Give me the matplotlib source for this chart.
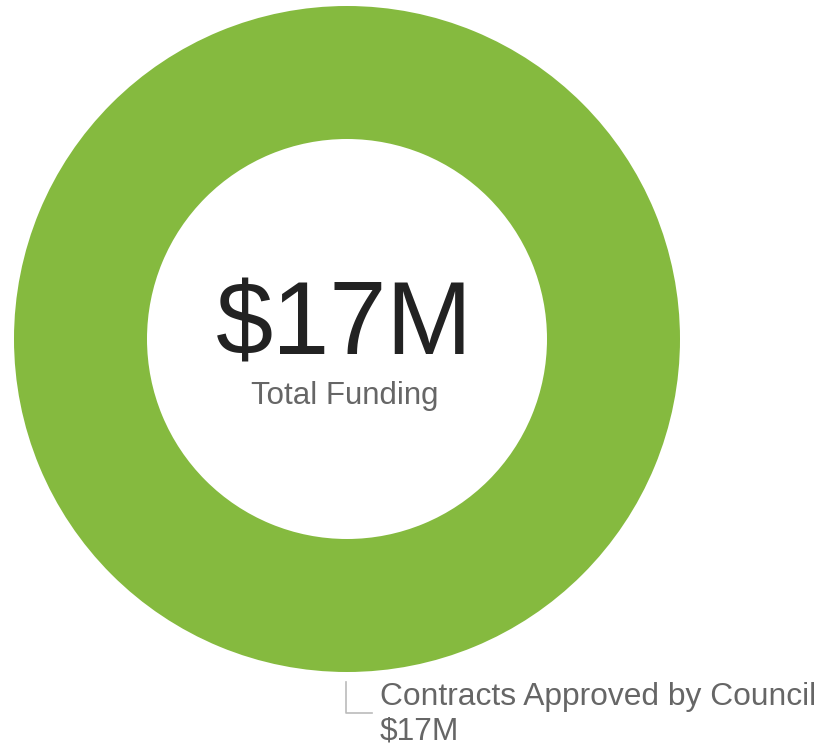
import matplotlib
matplotlib.use("Agg")
import matplotlib.pyplot as plt

categories = ["Contracts Approved by Council"]
values = [17]  # $M
colors = ["#85BA3F"]

total = sum(values)

plt.rcParams['font.family'] = ['Liberation Sans', 'DejaVu Sans']

fig = plt.figure(figsize=(8.21, 7.46), dpi=100)
ax = fig.add_axes([0, 0, 1, 1])

cx, cy, r_out, r_in = 347, 339, 333, 200
ax.pie(values, colors=colors, radius=r_out, center=(cx, cy), startangle=90,
       counterclock=False, wedgeprops=dict(width=r_out - r_in, linewidth=0))

ax.set_xlim(0, 821)
ax.set_ylim(746, 0)
ax.set_aspect('equal')
ax.axis('off')

# centre text
ax.text(344, 354, f"${total}M", fontsize=74, color="#222222", ha='center', va='baseline')
ax.text(345, 404, "Total Funding", fontsize=22.5, color="#666666", ha='center', va='baseline')

# leader line + label
ax.plot([346, 346, 372], [682, 713, 713], color="#BBBBBB", linewidth=1.2)
ax.text(380, 705, categories[0], fontsize=22.9, color="#666666", ha='left', va='baseline')
ax.text(380, 739, f"${values[0]}M", fontsize=22.9, color="#666666", ha='left', va='baseline')

fig.savefig("out.png", dpi=100)
